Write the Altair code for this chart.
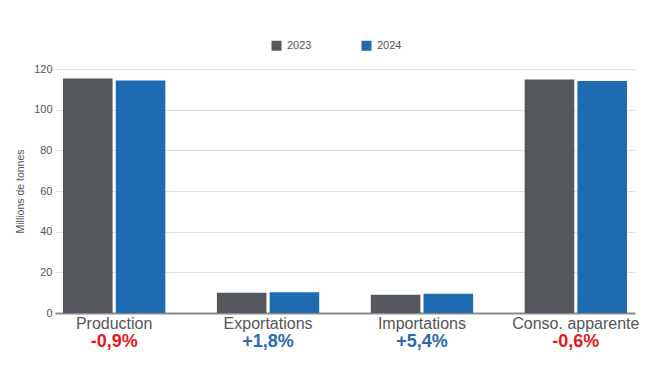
import altair as alt
import pandas as pd

categories = ["Production", "Exportations", "Importations", "Conso. apparente"]
years = ["2023", "2024"]
values_2023 = [115.3, 10.0, 9.0, 114.8]
values_2024 = [114.3, 10.2, 9.5, 114.1]
changes = ["-0,9%", "+1,8%", "+5,4%", "-0,6%"]

rows = []
for c, a, b in zip(categories, values_2023, values_2024):
    rows.append({"cat": c, "year": years[0], "value": a})
    rows.append({"cat": c, "year": years[1], "value": b})
bars_df = pd.DataFrame(rows)
pct_df = pd.DataFrame({"cat": categories, "pct": changes})

FONT = "Liberation Sans"

x_enc = alt.X(
    "cat:N",
    sort=categories,
    scale=alt.Scale(paddingInner=0.335, paddingOuter=0.052),
    axis=alt.Axis(
        title=None, labelAngle=0, labelFontSize=16, labelColor="#555555",
        labelPadding=2, ticks=False, domainColor="#8a8a8a", domainWidth=2,
        labelLimit=300, grid=False, labelFont=FONT,
    ),
)

bars = alt.Chart(bars_df).mark_bar().encode(
    x=x_enc,
    xOffset=alt.XOffset("year:N", sort=years, scale=alt.Scale(paddingInner=0.06, paddingOuter=0)),
    y=alt.Y(
        "value:Q",
        scale=alt.Scale(domain=[0, 120], nice=False),
        axis=alt.Axis(
            title="Millions de tonnes", values=[0, 20, 40, 60, 80, 100, 120],
            titleFontSize=10.5, titleFontWeight="normal", titleColor="#555555",
            titlePadding=8, labelFontSize=11, labelColor="#555555", labelPadding=3,
            ticks=False, domain=False, gridColor="#e0e0e0", gridWidth=1,
            labelFont=FONT, titleFont=FONT,
        ),
    ),
    color=alt.Color(
        "year:N",
        sort=years,
        scale=alt.Scale(domain=years, range=["#54575b", "#1f6bb1"]),
        legend=alt.Legend(
            title=None, orient="none", legendX=216, legendY=-29,
            direction="horizontal", columns=2, columnPadding=49,
            symbolType="square", symbolSize=100, symbolStrokeWidth=0,
            labelFontSize=11, labelColor="#555555", labelOffset=5, labelFont=FONT,
        ),
    ),
)

pcts = alt.Chart(pct_df).mark_text(
    fontSize=18, fontWeight="bold", dy=29, baseline="middle", font=FONT
).encode(
    x=alt.X("cat:N", sort=categories),
    y=alt.datum(0),
    text="pct:N",
    color=alt.condition("indexof(datum.pct, '-') === 0", alt.value("#e8171d"), alt.value("#2a6ab0")),
)

chart = alt.layer(bars, pcts).properties(
    width=580, height=244,
    autosize="none",
    padding={"left": 55, "top": 69, "right": 15, "bottom": 53},
).configure(font=FONT).configure_view(stroke=None, strokeWidth=0)

chart.save("out.html", embed_options={"renderer": "svg", "actions": False})
